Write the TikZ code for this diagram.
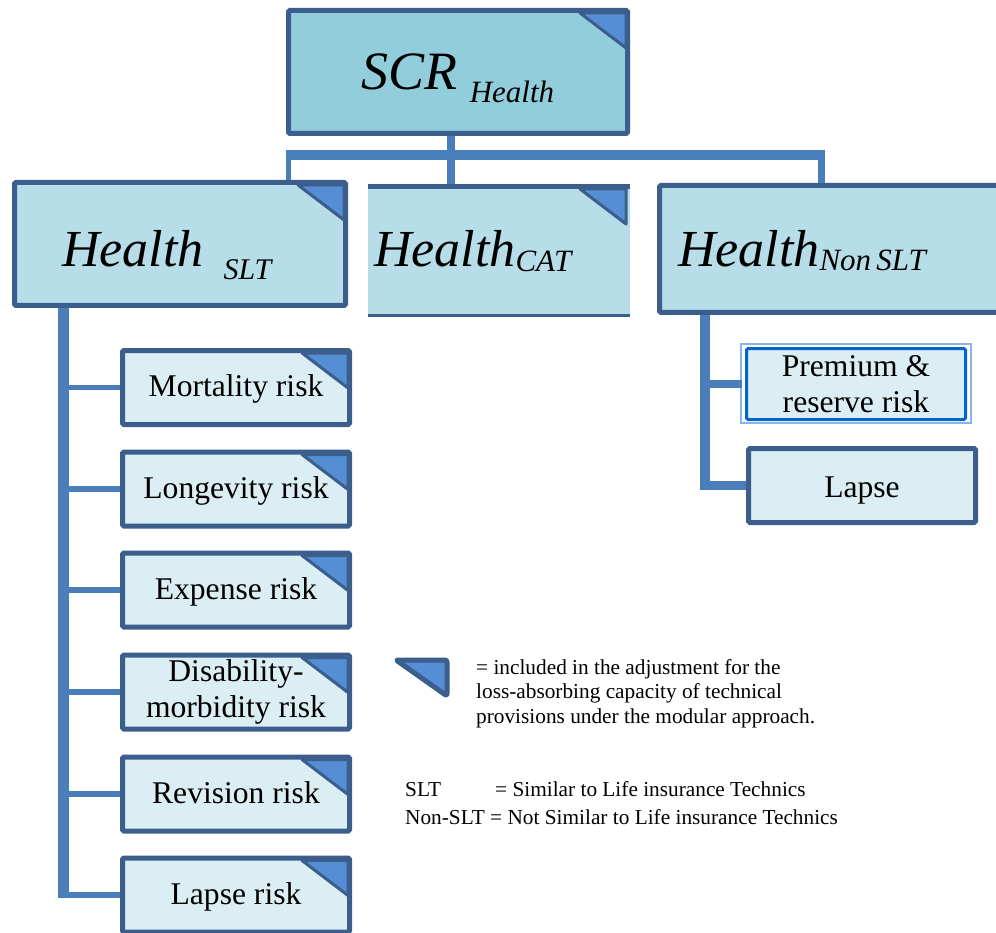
\documentclass[tikz,border=0pt]{standalone}
\usepackage{fontspec}
\setmainfont{Liberation Serif}
\usepackage{tikz}

\definecolor{edgeblue}{RGB}{59,94,140}
\definecolor{linkblue}{RGB}{74,126,187}
\definecolor{topfill}{RGB}{146,205,220}
\definecolor{midfill}{RGB}{183,221,232}
\definecolor{leaffill}{RGB}{219,238,244}
\definecolor{cornerblue}{RGB}{85,142,213}
\definecolor{premblue}{RGB}{0,102,204}
\definecolor{premline}{RGB}{141,180,226}

\tikzset{
	unitbox/.style={draw=edgeblue, line width=5pt, rounded corners=1.5pt, inner sep=0pt},
	topbox/.style={unitbox, fill=topfill, minimum width=339pt, minimum height=123pt},
	midbox/.style={unitbox, fill=midfill, minimum height=123pt, align=left},
	riskbox/.style={unitbox, fill=leaffill, minimum width=227pt, minimum height=74pt, align=center, font=\fontsize{31.6}{36}\selectfont},
	oneline/.style={text height=18pt, text depth=0pt},
	bigfont/.style={font=\itshape\fontsize{52}{58}\selectfont},
	corner/.style={fill=cornerblue, draw=edgeblue, line width=3pt, line join=round},
	link/.style={draw=linkblue, line width=#1},
	link/.default=6pt
}

\begin{document}
\begin{tikzpicture}[x=1pt, y=-1pt]
	\useasboundingbox (0,0) rectangle (996,933);
	\clip (0,0) rectangle (996,933);

	\node (scr) at (458,72) [topbox, font=\itshape\fontsize{54}{60}\selectfont, text height=36pt, text depth=0pt] {SCR\hspace{12pt}\raisebox{-13pt}{\fontsize{31}{34}\selectfont Health}};
		\node (slt) at (180,244) [midbox, bigfont, text width=236pt, inner xsep=47.5pt, text height=46pt, text depth=0pt] {Health\hspace{20pt}\raisebox{-13pt}{\fontsize{30}{34}\selectfont SLT}};
		\node (cat) at (499,250.5) [midbox, bigfont, draw=none, outer sep=0pt, minimum height=133pt, text width=250pt, inner xsep=6pt, text height=33pt, text depth=0pt] {Health\raisebox{-5pt}{\fontsize{31}{34}\selectfont CAT}};
		\node (nslt) at (839.75,249) [midbox, bigfont, minimum height=127pt, text width=323.5pt, inner xsep=18.5pt, text height=36pt, text depth=0pt] {Health\raisebox{-4pt}{\fontsize{31}{34}\selectfont Non\,SLT}};
	\draw[edgeblue, line width=5pt] ([yshift=-2.5pt]cat.north west) -- ([yshift=-2.5pt]cat.north east);
	\draw[edgeblue, line width=3pt] ([yshift=1.5pt]cat.south west) -- ([yshift=1.5pt]cat.south east);

	\node (mort) at (236,387.5) [riskbox, oneline] {Mortality risk};
	\node (long) at (236,489) [riskbox, oneline] {Longevity risk};
	\node (exp) at (236,590) [riskbox, oneline] {Expense risk};
	\node (dis) at (236,692) [riskbox] {Disability-\\morbidity risk};
	\node (rev) at (236,794) [riskbox, oneline] {Revision risk};
	\node (lapse) at (236,895) [riskbox, oneline] {Lapse risk};

	\node (prem) at (856,384) [riskbox, draw=premblue, line width=3pt, minimum width=219pt, minimum height=71pt] {Premium \&\\reserve risk};
	\node (nlapse) at (862,485.5) [riskbox, text height=23pt, text depth=0pt] {Lapse};
	\draw[premline, line width=1.5pt] ([xshift=-4pt,yshift=3pt]prem.north west) rectangle ([xshift=4pt,yshift=-2pt]prem.south east);

	\coordinate (hub) at (451,155.5);
	\coordinate (barL) at (288,155.5);
	\coordinate (barR) at (821,155.5);
	\draw[link=8pt] (scr.south -| hub) -- (hub) -- (hub |- cat.north);
	\draw[link=10pt] ([xshift=-2.5pt]barL) -- ([xshift=3.5pt]barR);
	\draw[link=5pt] (barL) -- (barL |- slt.north);
	\draw[link=7pt] (barR) -- (barR |- nslt.north);

	\coordinate (trunkL) at (63,0);
	\draw[link=11pt, shorten >=-3pt] (slt.south -| trunkL) -- (lapse.west -| trunkL);
	\foreach \n in {mort,long,exp,dis,rev,lapse}
		\draw[link=5.5pt] (\n.west -| trunkL) -- (\n.west);

	\coordinate (trunkR) at (705,0);
	\draw[link=10pt, shorten >=-4pt] (nslt.south -| trunkR) -- (nlapse.west -| trunkR);
	\draw[link=8pt] (prem.west -| trunkR) -- ([xshift=-3pt]prem.west);
	\draw[link=9pt] (nlapse.west -| trunkR) -- (nlapse.west);

	\foreach \n in {scr,slt,cat,mort,long,exp,dis,rev,lapse}
		\filldraw[corner] ([xshift=-50pt,yshift=-5pt]\n.north east) -- ([xshift=-4pt,yshift=-5pt]\n.north east) -- ([xshift=-4pt,yshift=-40pt]\n.north east) -- cycle;

	\filldraw[corner, line width=5pt, rounded corners=2pt] (396,660) -- (447,660) -- (447,696) -- cycle;
	\node (note) at (476,659) [anchor=north west, inner sep=0pt, align=left, font=\fontsize{21.3}{24.5}\selectfont] {= included in the adjustment for the\\loss-absorbing capacity of technical\\provisions under the modular approach.};
	\node (abbr) at (405,781) [anchor=north west, inner sep=0pt, align=left, font=\fontsize{21.3}{28}\selectfont] {\makebox[90pt][l]{SLT}= Similar to Life insurance Technics\\Non-SLT = Not Similar to Life insurance Technics};
\end{tikzpicture}
\end{document}
